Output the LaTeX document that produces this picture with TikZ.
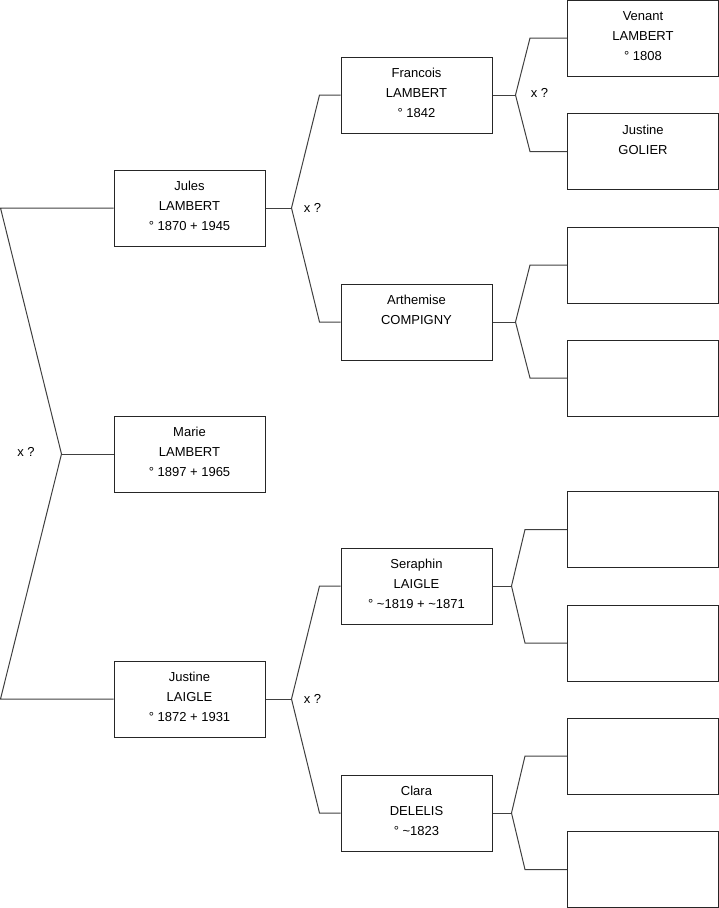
\documentclass[tikz,border=0pt]{standalone}
\usepackage{fontspec}
\setmainfont{Liberation Sans}
\usetikzlibrary{calc}

\newcommand{\fiche}[1]{\parbox[c][53pt][t]{150pt}{\centering #1}}

\begin{document}
\begin{tikzpicture}[x=1pt, y=-1pt, every node/.style={font=\fontsize{13}{20}\selectfont},
  person/.style={draw=black!85, line width=1pt, minimum width=151pt, minimum height=76pt, inner sep=0pt},
  link/.style={draw=black!75, line width=1pt},
  union/.style={inner sep=0pt}]
  \useasboundingbox (0,0) rectangle (719,908);

  % Marie and parents
  \node[person] (marie) at (189.5,454) {\fiche{Marie\\LAMBERT\\° 1897 + 1965}};
  \node[person] (jules) at (189.5,208) {\fiche{Jules\\LAMBERT\\° 1870 + 1945}};
  \node[person] (justine) at (189.5,699) {\fiche{Justine\\LAIGLE\\° 1872 + 1931}};

  % Grandparents
  \node[person] (francois) at (416.5,95) {\fiche{Francois\\LAMBERT\\° 1842}};
  \node[person] (arthemise) at (416.5,322) {\fiche{Arthemise\\COMPIGNY}};
  \node[person] (seraphin) at (416.5,586) {\fiche{Seraphin\\LAIGLE\\° \textasciitilde 1819 + \textasciitilde 1871}};
  \node[person] (clara) at (416.5,813) {\fiche{Clara\\DELELIS\\° \textasciitilde 1823}};

  % Great-grandparents
  \node[person] (venant) at (643,38) {\fiche{Venant\\LAMBERT\\° 1808}};
  \node[person] (golier) at (643,151.5) {\fiche{Justine\\GOLIER}};
  \node[person] (arth1) at (643,265) {\fiche{}};
  \node[person] (arth2) at (643,378) {\fiche{}};
  \node[person] (sera1) at (643,529.5) {\fiche{}};
  \node[person] (sera2) at (643,643) {\fiche{}};
  \node[person] (clara1) at (643,756) {\fiche{}};
  \node[person] (clara2) at (643,869.5) {\fiche{}};

  % Forks
  \coordinate (fm) at ($(marie.west)+(-52,0)$);
  \coordinate (jup) at ($(jules.west)+(-113,0)$);
  \coordinate (jdn) at ($(justine.west)+(-113,0)$);
  \draw[link] (marie.west) -- (fm);
  \draw[link] (jules.west) -- (jup) -- (fm) -- (jdn) -- (justine.west);

  \coordinate (fj) at ($(jules.east)+(26,0)$);
  \draw[link] (jules.east) -- (fj);
  \draw[link] (francois.west) -- ($(francois.west)+(-21,0)$) -- (fj)
    -- ($(arthemise.west)+(-21,0)$) -- (arthemise.west);

  \coordinate (fl) at ($(justine.east)+(26,0)$);
  \draw[link] (justine.east) -- (fl);
  \draw[link] (seraphin.west) -- ($(seraphin.west)+(-21,0)$) -- (fl)
    -- ($(clara.west)+(-21,0)$) -- (clara.west);

  \coordinate (ff) at ($(francois.east)+(23,0)$);
  \draw[link] (francois.east) -- (ff);
  \draw[link] (venant.west) -- ($(venant.west)+(-37,0)$) -- (ff)
    -- ($(golier.west)+(-37,0)$) -- (golier.west);

  \coordinate (fa) at ($(arthemise.east)+(23,0)$);
  \draw[link] (arthemise.east) -- (fa);
  \draw[link] (arth1.west) -- ($(arth1.west)+(-37,0)$) -- (fa)
    -- ($(arth2.west)+(-37,0)$) -- (arth2.west);

  \coordinate (fs) at ($(seraphin.east)+(19,0)$);
  \draw[link] (seraphin.east) -- (fs);
  \draw[link] (sera1.west) -- ($(sera1.west)+(-42,0)$) -- (fs)
    -- ($(sera2.west)+(-42,0)$) -- (sera2.west);

  \coordinate (fc) at ($(clara.east)+(19,0)$);
  \draw[link] (clara.east) -- (fc);
  \draw[link] (clara1.west) -- ($(clara1.west)+(-42,0)$) -- (fc)
    -- ($(clara2.west)+(-42,0)$) -- (clara2.west);

  % Marriages
  \node[union] (xm) at (26,452) {x ?};
  \node[union] (xj) at ($(fj)+(21,0)$) {x ?};
  \node[union] (xl) at ($(fl)+(21,0)$) {x ?};
  \node[union] (xf) at ($(ff)+(24,-2)$) {x ?};
\end{tikzpicture}
\end{document}
